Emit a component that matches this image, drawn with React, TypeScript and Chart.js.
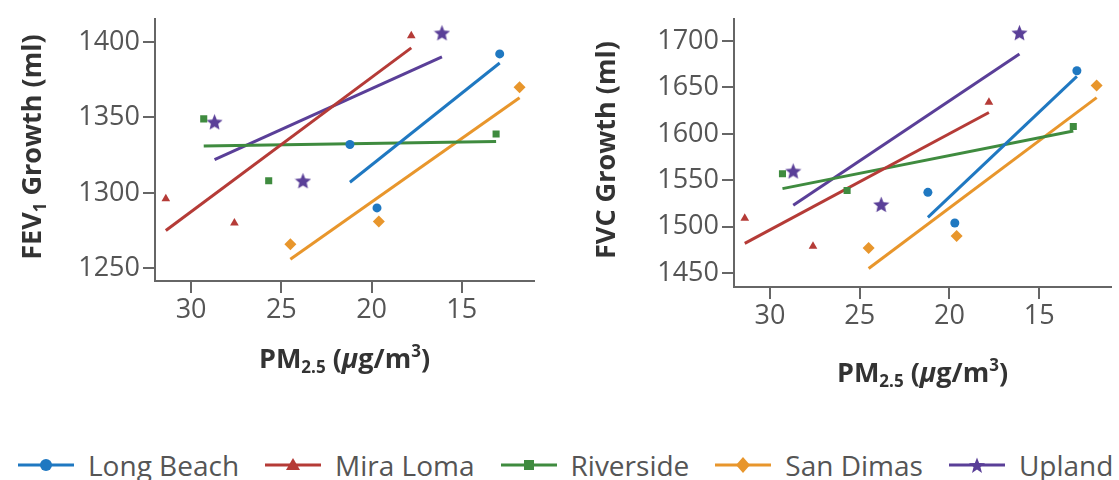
import React, { useEffect, useRef } from "react";
import { Chart, registerables } from "chart.js";

Chart.register(...registerables);

// ---------- data ----------
const communities = ["Long Beach", "Mira Loma", "Riverside", "San Dimas", "Upland"];
const colors = ["#1f78c1", "#b53b37", "#3f8b3f", "#e8962c", "#5a3f98"];

// PM2.5 (µg/m³) for the three cohorts of each community
const pmLongBeach = [21.2, 19.7, 12.9];
const pmMiraLoma = [31.4, 27.6, 17.8];
const pmRiverside = [29.3, 25.7, 13.1];
const pmSanDimas = [24.5, 19.6, 11.8];
const pmUpland = [28.7, 23.8, 16.1];

// FEV1 growth (ml)
const fevLongBeach = [1332, 1290, 1392];
const fevMiraLoma = [1296, 1280, 1404];
const fevRiverside = [1349, 1308, 1339];
const fevSanDimas = [1266, 1281, 1370];
const fevUpland = [1347, 1308, 1406];

// FVC growth (ml)
const fvcLongBeach = [1537, 1504, 1668];
const fvcMiraLoma = [1509, 1479, 1634];
const fvcRiverside = [1557, 1539, 1608];
const fvcSanDimas = [1477, 1490, 1652];
const fvcUpland = [1560, 1524, 1709];

// fitted lines: value at highest PM, value at lowest PM
const fevFitLongBeach = [1307, 1386];
const fevFitMiraLoma = [1275, 1396];
const fevFitRiverside = [1331, 1334];
const fevFitSanDimas = [1256, 1363];
const fevFitUpland = [1322, 1390];

const fvcFitLongBeach = [1510, 1662];
const fvcFitMiraLoma = [1482, 1623];
const fvcFitRiverside = [1541, 1603];
const fvcFitSanDimas = [1455, 1639];
const fvcFitUpland = [1523, 1686];

const xTicks = [30, 25, 20, 15];
const fevTicks = [1250, 1300, 1350, 1400];
const fvcTicks = [1450, 1500, 1550, 1600, 1650, 1700];

// axis titles as rich-text pieces (sub = subscript, sup = superscript)
const xTitleParts = [
  { t: "PM" },
  { t: "2.5", sub: true },
  { t: " (" },
  { t: "µ", italic: true },
  { t: "g/m" },
  { t: "3", sup: true },
  { t: ")" },
];
const fevTitleParts = [{ t: "FEV" }, { t: "1", sub: true }, { t: " Growth (ml)" }];
const fvcTitleParts = [{ t: "FVC Growth (ml)" }];

const pmSets = [pmLongBeach, pmMiraLoma, pmRiverside, pmSanDimas, pmUpland];
const fevSets = [fevLongBeach, fevMiraLoma, fevRiverside, fevSanDimas, fevUpland];
const fvcSets = [fvcLongBeach, fvcMiraLoma, fvcRiverside, fvcSanDimas, fvcUpland];
const fevFits = [fevFitLongBeach, fevFitMiraLoma, fevFitRiverside, fevFitSanDimas, fevFitUpland];
const fvcFits = [fvcFitLongBeach, fvcFitMiraLoma, fvcFitRiverside, fvcFitSanDimas, fvcFitUpland];

const FONT = "'Open Sans', 'DejaVu Sans', sans-serif";
const TITLE_SIZE = 27;

function makeStar(color: string, size: number) {
  const c = document.createElement("canvas");
  c.width = size;
  c.height = size;
  const ctx = c.getContext("2d")!;
  ctx.fillStyle = color;
  ctx.beginPath();
  const cx = size / 2;
  const cy = size / 2 + size * 0.05;
  const R = size / 2;
  const r = R * 0.45;
  for (let i = 0; i < 10; i++) {
    const a = -Math.PI / 2 + (i * Math.PI) / 5;
    const rad = i % 2 ? r : R;
    ctx.lineTo(cx + rad * Math.cos(a), cy + rad * Math.sin(a));
  }
  ctx.closePath();
  ctx.fill();
  return c;
}

function pointStyleFor(i: number): any {
  return ["circle", "triangle", "rect", "rectRot", "star"][i];
}
function radiusFor(i: number) {
  return [4.5, 5, 5, 6, 8][i];
}

function drawRich(ctx: CanvasRenderingContext2D, parts: any[], cx: number, cy: number, rotate: boolean) {
  ctx.save();
  ctx.translate(cx, cy);
  if (rotate) ctx.rotate(-Math.PI / 2);
  const fontOf = (p: any) => {
    const size = p.sub || p.sup ? Math.round(TITLE_SIZE * 0.62) : TITLE_SIZE;
    return `${p.italic ? "italic " : ""}bold ${size}px ${FONT}`;
  };
  const widths = parts.map((p) => {
    ctx.font = fontOf(p);
    return ctx.measureText(p.t).width;
  });
  const total = widths.reduce((a, b) => a + b, 0);
  let x = -total / 2;
  const base = TITLE_SIZE * 0.714 * 0.5;
  ctx.textBaseline = "alphabetic";
  ctx.textAlign = "left";
  ctx.fillStyle = "#333";
  parts.forEach((p, i) => {
    ctx.font = fontOf(p);
    const dy = p.sub ? TITLE_SIZE * 0.2 : p.sup ? -TITLE_SIZE * 0.38 : 0;
    ctx.fillText(p.t, x, base + dy);
    x += widths[i];
  });
  ctx.restore();
}

type Geo = {
  width: number;
  height: number;
  padTop: number;
  padRight: number;
  yAxisW: number;
  xAxisH: number;
  yTitleX: number;
  xTitleY: number;
  yMin: number;
  yMax: number;
};

function buildConfig(values: number[][], fits: number[][], yTicks: number[], yTitle: any[], g: Geo): any {
  const starImg = makeStar(colors[4], 17);
  const pointSets = values.map((vals, i) => ({
    label: communities[i],
    data: vals.map((v, k) => ({ x: pmSets[i][k], y: v })),
    pointStyle: i === 4 ? starImg : pointStyleFor(i),
    pointRadius: radiusFor(i),
    backgroundColor: colors[i],
    borderColor: colors[i],
    borderWidth: 0,
    showLine: false,
  }));
  const lineSets = fits.map((f, i) => ({
    label: communities[i] + " fit",
    data: [
      { x: Math.max(...pmSets[i]), y: f[0] },
      { x: Math.min(...pmSets[i]), y: f[1] },
    ],
    showLine: true,
    pointRadius: 0,
    borderColor: colors[i],
    borderWidth: 3,
    backgroundColor: colors[i],
  }));
  const tickFont = { family: FONT, size: 27 };
  const titlePlugin = {
    id: "richTitles",
    afterDraw(chart: any) {
      const a = chart.chartArea;
      const ctx = chart.ctx;
      drawRich(ctx, xTitleParts, (a.left + a.right) / 2, g.xTitleY, false);
      drawRich(ctx, yTitle, g.yTitleX, (a.top + a.bottom) / 2 - 3, true);
    },
  };
  return {
    type: "scatter",
    data: { datasets: [...pointSets, ...lineSets] },
    plugins: [titlePlugin],
    options: {
      animation: false,
      responsive: false,
      maintainAspectRatio: false,
      devicePixelRatio: 1,
      events: [],
      layout: { padding: { top: g.padTop, right: g.padRight, left: 0, bottom: 0 } },
      plugins: { legend: { display: false }, tooltip: { enabled: false } },
      scales: {
        x: {
          type: "linear",
          reverse: true,
          min: 11,
          max: 32,
          afterBuildTicks: (s: any) => {
            s.ticks = xTicks.map((v) => ({ value: v }));
          },
          afterFit: (s: any) => {
            s.height = g.xAxisH;
          },
          ticks: {
            font: tickFont,
            color: "#555",
            padding: 1,
            maxRotation: 0,
            autoSkip: false,
            callback: (v: any) => String(v),
          },
          grid: { drawOnChartArea: false, drawTicks: true, tickLength: 12, color: "#666", lineWidth: 2 },
          border: { display: true, color: "#666", width: 2 },
          title: { display: false },
        },
        y: {
          type: "linear",
          min: g.yMin,
          max: g.yMax,
          afterBuildTicks: (s: any) => {
            s.ticks = yTicks.map((v) => ({ value: v }));
          },
          afterFit: (s: any) => {
            s.width = g.yAxisW;
          },
          ticks: {
            font: tickFont,
            color: "#555",
            padding: 3,
            autoSkip: false,
            callback: (v: any) => String(v),
          },
          grid: { drawOnChartArea: false, drawTicks: true, tickLength: 12, color: "#666", lineWidth: 2 },
          border: { display: true, color: "#666", width: 2 },
          title: { display: false },
        },
      },
    },
  };
}

const leftGeo: Geo = {
  width: 560,
  height: 400,
  padTop: 13,
  padRight: 26,
  yAxisW: 155,
  xAxisH: 119,
  yTitleX: 31,
  xTitleY: 358,
  yMin: 1241.6,
  yMax: 1415,
};

const rightGeo: Geo = {
  width: 559,
  height: 400,
  padTop: 17,
  padRight: 0,
  yAxisW: 174,
  xAxisH: 113,
  yTitleX: 45,
  xTitleY: 372,
  yMin: 1435,
  yMax: 1723.5,
};

function LegendIcon({ i }: { i: number }) {
  const c = colors[i];
  const cx = 28;
  const cy = 10;
  let marker: any = null;
  if (i === 0) marker = <circle cx={cx} cy={cy} r={6} fill={c} />;
  if (i === 1) marker = <polygon points={`${cx},${cy - 7} ${cx + 7},${cy + 5} ${cx - 7},${cy + 5}`} fill={c} />;
  if (i === 2) marker = <rect x={cx - 5} y={cy - 5} width={10} height={10} fill={c} />;
  if (i === 3) marker = <polygon points={`${cx},${cy - 8} ${cx + 7},${cy} ${cx},${cy + 8} ${cx - 7},${cy}`} fill={c} />;
  if (i === 4) {
    const pts: string[] = [];
    for (let k = 0; k < 10; k++) {
      const a = -Math.PI / 2 + (k * Math.PI) / 5;
      const rr = k % 2 ? 3.6 : 8.5;
      pts.push(`${(cx + rr * Math.cos(a)).toFixed(2)},${(cy + 1 + rr * Math.sin(a)).toFixed(2)}`);
    }
    marker = <polygon points={pts.join(" ")} fill={c} />;
  }
  return (
    <svg width={56} height={20} style={{ display: "block" }}>
      <line x1={0} y1={cy} x2={56} y2={cy} stroke={c} strokeWidth={3} />
      {marker}
    </svg>
  );
}

export default function App() {
  const leftRef = useRef<HTMLCanvasElement>(null);
  const rightRef = useRef<HTMLCanvasElement>(null);

  useEffect(() => {
    const c1 = new Chart(leftRef.current!, buildConfig(fevSets, fevFits, fevTicks, fevTitleParts, leftGeo));
    const c2 = new Chart(rightRef.current!, buildConfig(fvcSets, fvcFits, fvcTicks, fvcTitleParts, rightGeo));
    return () => {
      c1.destroy();
      c2.destroy();
    };
  }, []);

  return (
    <div
      style={{
        position: "absolute",
        left: 0,
        top: 0,
        width: 1119,
        height: 480,
        overflow: "hidden",
        background: "#fff",
      }}
    >
      <canvas
        ref={leftRef}
        width={leftGeo.width}
        height={leftGeo.height}
        style={{ position: "absolute", left: 0, top: 0 }}
      />
      <canvas
        ref={rightRef}
        width={rightGeo.width}
        height={rightGeo.height}
        style={{ position: "absolute", left: 560, top: 0 }}
      />
      <div
        style={{
          position: "absolute",
          left: 18,
          top: 446,
          display: "flex",
          alignItems: "center",
          gap: 26,
          fontFamily: FONT,
          fontSize: 28,
          color: "#555",
          whiteSpace: "nowrap",
        }}
      >
        {communities.map((name, i) => (
          <div key={name} style={{ display: "flex", alignItems: "center" }}>
            <LegendIcon i={i} />
            <span style={{ marginLeft: 14 }}>{name}</span>
          </div>
        ))}
      </div>
    </div>
  );
}
